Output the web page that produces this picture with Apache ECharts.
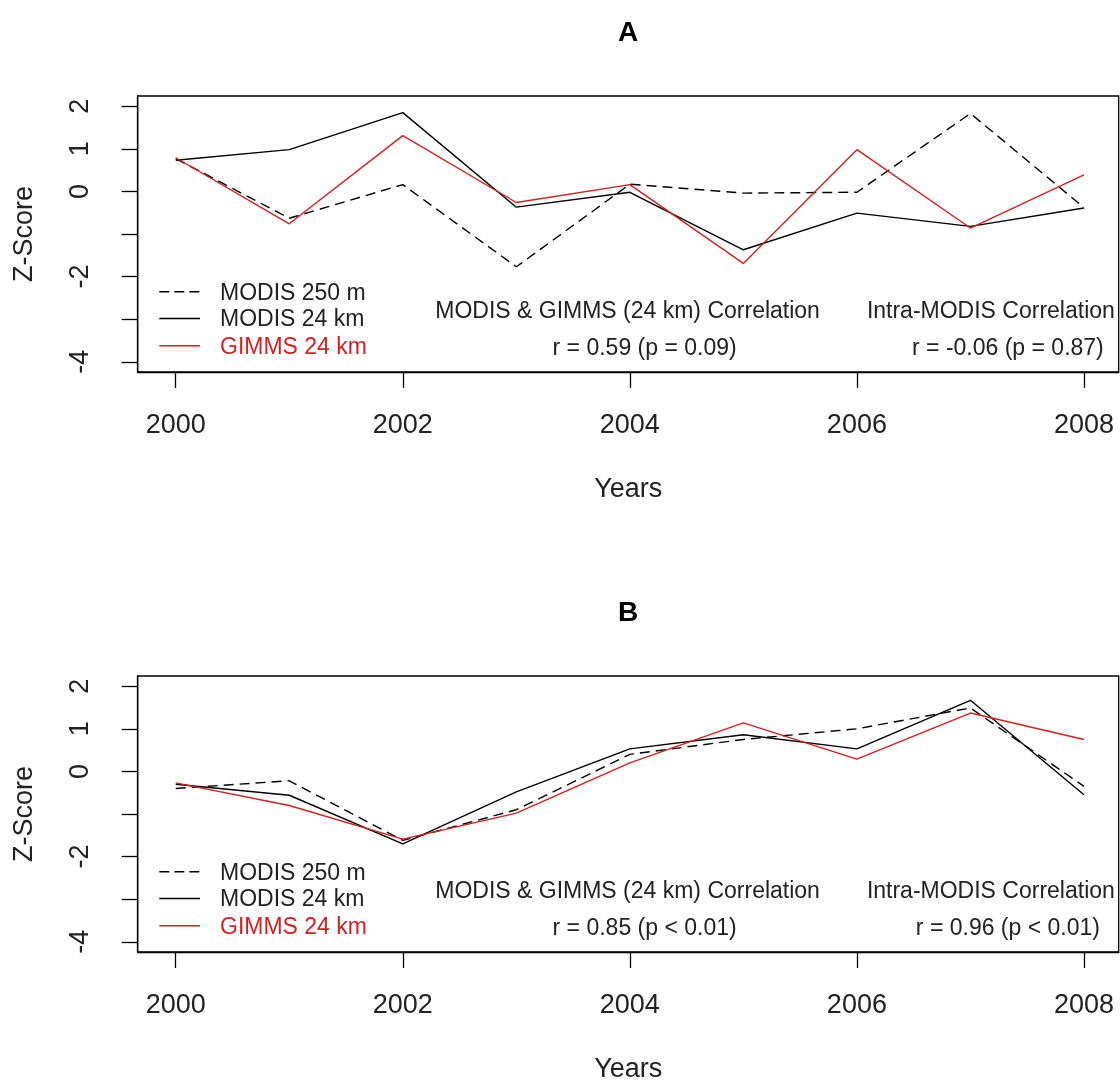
<!DOCTYPE html>
<html>
<head>
<meta charset="utf-8">
<script src="https://cdn.jsdelivr.net/npm/echarts@6/dist/echarts.min.js"></script>
<style>
html,body{margin:0;padding:0;background:#fff;}
#chart{width:1120px;height:1084px;}
</style>
</head>
<body>
<div id="chart"></div>
<script>
// ---------- data ----------
const years = [2000, 2001, 2002, 2003, 2004, 2005, 2006, 2007, 2008];
const xTicks = [2000, 2002, 2004, 2006, 2008];
const yTicks = [-4, -3, -2, -1, 0, 1, 2];
const yTickLabels = [-4, -2, 0, 1, 2];
const seriesNames = ['MODIS 250 m', 'MODIS 24 km', 'GIMMS 24 km'];
const panelTitles = ['A', 'B'];
const xAxisTitle = 'Years';
const yAxisTitle = 'Z-Score';

// Panel A
const modis250A = [0.77, -0.63, 0.16, -1.77, 0.17, -0.04, -0.02, 1.83, -0.38];
const modis24A  = [0.73, 0.98, 1.85, -0.37, -0.02, -1.37, -0.51, -0.82, -0.39];
const gimmsA    = [0.79, -0.76, 1.31, -0.26, 0.16, -1.69, 0.98, -0.86, 0.39];

// Panel B
const modis250B = [-0.40, -0.22, -1.62, -0.90, 0.40, 0.75, 1.00, 1.49, -0.35];
const modis24B  = [-0.30, -0.56, -1.70, -0.48, 0.53, 0.86, 0.53, 1.67, -0.55];
const gimmsB    = [-0.27, -0.80, -1.59, -0.98, 0.20, 1.14, 0.29, 1.37, 0.75];

const corrHeaders = ['MODIS & GIMMS (24 km) Correlation', 'Intra-MODIS Correlation'];
const corrTextA = ['r = 0.59 (p = 0.09)', 'r = -0.06 (p = 0.87)'];
const corrTextB = ['r = 0.85 (p < 0.01)', 'r = 0.96 (p < 0.01)'];

// ---------- styling / layout ----------
const FONT = '"Liberation Sans", Arial, sans-serif';
const TXT = '#222';
const RED = '#d81e1e';
const seriesColors = [ '#000', '#000', RED ];
const seriesDash = [ [10, 6], 'solid', 'solid' ];
const gridLeft = 137.7, gridWidth = 981, gridHeight = 276;
const gridTops = [96, 676];

const chart = echarts.init(document.getElementById('chart'), null, {renderer: 'canvas'});

const panels = [
  [modis250A, modis24A, gimmsA],
  [modis250B, modis24B, gimmsB]
];

function xAxisFor(i) {
  return {
    type: 'value', gridIndex: i, position: 'bottom',
    min: 1999.665, max: 2008.306,
    axisLine: {show: true, onZero: false, lineStyle: {color: '#000', width: 1.3}},
    axisTick: {show: true, customValues: xTicks, length: 16, lineStyle: {color: '#000', width: 1.3}},
    axisLabel: {show: true, customValues: xTicks, margin: 40, fontSize: 27, color: TXT, fontFamily: FONT,
                formatter: v => String(v)},
    splitLine: {show: false},
    name: xAxisTitle, nameLocation: 'middle', nameGap: 104,
    nameTextStyle: {fontSize: 27, color: TXT, fontFamily: FONT}
  };
}
function yAxisFor(i) {
  return {
    type: 'value', gridIndex: i, position: 'left',
    min: -4.24, max: 2.24,
    axisLine: {show: true, onZero: false, lineStyle: {color: '#000', width: 1.3}},
    axisTick: {show: true, customValues: yTicks, length: 16, lineStyle: {color: '#000', width: 1.3}},
    axisLabel: {show: true, customValues: yTickLabels, rotate: 90, margin: 44, fontSize: 27, color: TXT, fontFamily: FONT,
                formatter: v => String(v)},
    splitLine: {show: false},
    name: yAxisTitle, nameLocation: 'middle', nameGap: 100, nameRotate: 90,
    nameTextStyle: {fontSize: 27, color: TXT, fontFamily: FONT}
  };
}

const series = [];
panels.forEach((vals, p) => {
  vals.forEach((arr, s) => {
    series.push({
      type: 'line', name: seriesNames[s],
      xAxisIndex: p, yAxisIndex: p,
      data: years.map((y, k) => [y, arr[k]]),
      symbol: 'none', silent: true,
      lineStyle: {color: seriesColors[s], width: 1.4, type: seriesDash[s]},
      z: 2 + s
    });
  });
});

chart.setOption({
  animation: false,
  backgroundColor: '#fff',
  grid: gridTops.map(t => ({
    left: gridLeft, top: t, width: gridWidth, height: gridHeight,
    show: true, borderColor: '#000', borderWidth: 1.3, backgroundColor: 'transparent',
    containLabel: false, outerBoundsMode: 'none'
  })),
  xAxis: [xAxisFor(0), xAxisFor(1)],
  yAxis: [yAxisFor(0), yAxisFor(1)],
  series: series
});

// ---------- annotations (text, legend, titles) ----------
const graphics = [];
const corrTexts = [corrTextA, corrTextB];
gridTops.forEach((top, p) => {
  // panel title
  graphics.push({
    type: 'text', x: gridLeft + gridWidth / 2, y: top - 63,
    style: {text: panelTitles[p], fill: '#000', font: 'bold 28px ' + FONT, align: 'center', verticalAlign: 'middle'}
  });
  // correlation annotations placed in data coordinates
  const pos = [
    [2003.98, -2.83, corrHeaders[0]],
    [2004.13, -3.69, corrTexts[p][0]],
    [2007.18, -2.83, corrHeaders[1]],
    [2007.33, -3.69, corrTexts[p][1]]
  ];
  pos.forEach(([dx, dy, t]) => {
    const px = chart.convertToPixel({gridIndex: p}, [dx, dy]);
    graphics.push({
      type: 'text', x: px[0], y: px[1],
      style: {text: t, fill: TXT, font: '23px ' + FONT, align: 'center', verticalAlign: 'middle'}
    });
  });
  // legend
  const rows = [197.3, 224, 251.3];
  seriesNames.forEach((nm, s) => {
    const ry = top + rows[s];
    graphics.push({
      type: 'line', shape: {x1: 159.3, y1: ry - 1.5, x2: 200, y2: ry - 1.5},
      style: {stroke: seriesColors[s], lineWidth: 1.4, lineDash: s === 0 ? [10, 5] : null}
    });
    graphics.push({
      type: 'text', x: 220, y: ry,
      style: {text: nm, fill: s === 2 ? RED : TXT, font: '23px ' + FONT, align: 'left', verticalAlign: 'middle'}
    });
  });
});
chart.setOption({graphic: graphics});
</script>
</body>
</html>
